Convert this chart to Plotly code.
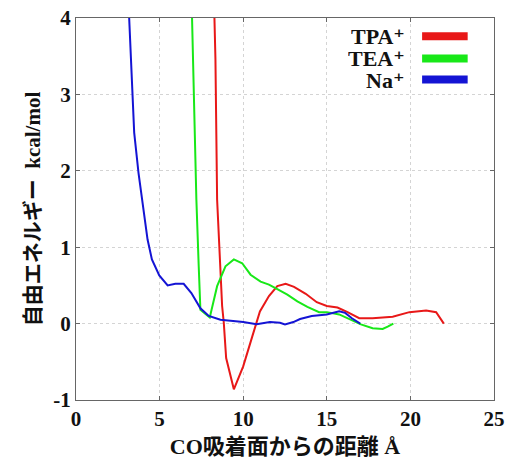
import plotly.graph_objects as go

# Data
na_x = [3.18, 3.30, 3.48, 3.74, 4.00, 4.28, 4.54, 4.98, 5.48, 5.94, 6.44, 6.90, 7.44, 7.94,
        8.64, 9.54, 10.0, 10.8, 11.6, 12.2, 12.5, 13.0, 13.4, 14.1, 15.0, 15.74, 16.1, 16.5, 17.0]
na_y = [4.0, 3.37, 2.50, 1.97, 1.54, 1.10, 0.84, 0.63, 0.50, 0.52, 0.52, 0.40, 0.20, 0.10,
        0.05, 0.03, 0.02, -0.01, 0.02, 0.01, -0.01, 0.02, 0.06, 0.10, 0.12, 0.16, 0.14, 0.07, 0.0]

tea_x = [6.94, 7.04, 7.20, 7.34, 7.44, 8.00, 8.44, 8.94, 9.44, 9.94, 10.44, 11.04, 11.54,
         12.04, 12.64, 13.24, 13.84, 14.54, 15.0, 15.74, 16.34, 17.04, 17.74, 18.34, 18.64, 18.98]
tea_y = [4.0, 2.93, 1.62, 0.75, 0.18, 0.08, 0.49, 0.75, 0.84, 0.79, 0.64, 0.55, 0.51,
         0.45, 0.38, 0.29, 0.22, 0.15, 0.15, 0.12, 0.06, -0.01, -0.06, -0.07, -0.04, 0.0]

tpa_x = [8.28, 8.34, 8.44, 8.60, 8.74, 8.84, 8.98, 9.44, 10.0, 10.54, 11.0, 11.54, 12.04,
         12.54, 13.04, 13.74, 14.4, 15.0, 15.64, 16.24, 16.94, 17.74, 18.94, 19.94, 20.94,
         21.54, 22.0]
tpa_y = [4.0, 3.46, 1.62, 0.75, 0.23, 0.01, -0.45, -0.86, -0.56, -0.17, 0.16, 0.36, 0.49,
         0.52, 0.48, 0.39, 0.28, 0.23, 0.21, 0.15, 0.07, 0.07, 0.09, 0.15, 0.17, 0.15, 0.0]

series_labels = ["TPA⁺", "TEA⁺", "Na⁺"]
series_colors = ["#e81818", "#18e818", "#1414d4"]
series_x = [tpa_x, tea_x, na_x]
series_y = [tpa_y, tea_y, na_y]

x_ticks = [0, 5, 10, 15, 20, 25]
y_ticks = [-1, 0, 1, 2, 3, 4]

FONT = "Liberation Serif, DejaVu Serif, Noto Sans CJK JP, serif"

fig = go.Figure()
for lab, col, xs, ys in zip(series_labels, series_colors, series_x, series_y):
    fig.add_trace(go.Scatter(x=xs, y=ys, mode="lines", name=lab,
                             line=dict(color=col, width=2), showlegend=False))

# custom legend (text right-aligned, swatch on the right)
leg_y = [0.952, 0.894, 0.839]
for lab, col, ly in zip(series_labels, series_colors, leg_y):
    fig.add_annotation(xref="paper", yref="paper", x=0.79, y=ly,
                       text="<b>" + lab + "</b>", height=20, borderpad=0,
                       showarrow=False, xanchor="right", yanchor="middle",
                       font=dict(family=FONT, size=22, color="#111"))
    fig.add_shape(type="line", xref="paper", yref="paper", x0=0.828, x1=0.937, y0=ly, y1=ly,
                  line=dict(color=col, width=8))

axis_common = dict(
    showline=True, linecolor="#666", linewidth=1, mirror="ticks",
    ticks="inside", ticklen=4, tickcolor="#666",
    showgrid=True, gridcolor="#d4d4d4", griddash="dot", gridwidth=1,
    zeroline=False, automargin=False,
    tickfont=dict(family=FONT, size=21, color="#111"),
)

fig.update_xaxes(range=[0, 25], tickvals=x_ticks, ticktext=["<b>%d</b>" % v for v in x_ticks],
                 title=dict(text="<b>CO吸着面からの距離 Å</b>", standoff=8,
                            font=dict(family=FONT, size=22, color="#111")),
                 **axis_common)
fig.update_yaxes(range=[-1, 4], tickvals=y_ticks, ticktext=["<b>%d</b>" % v for v in y_ticks],
                 title=dict(text="<b>自由エネルギー  kcal/mol</b>", standoff=6,
                            font=dict(family=FONT, size=21, color="#111")),
                 **axis_common)

fig.update_layout(
    width=508, height=460,
    margin=dict(l=76, r=14, t=18, b=60),
    plot_bgcolor="white", paper_bgcolor="white",
    showlegend=False,
)

fig.write_html("out.html", config={"displayModeBar": False},
               post_script="document.body.style.margin='0';")
